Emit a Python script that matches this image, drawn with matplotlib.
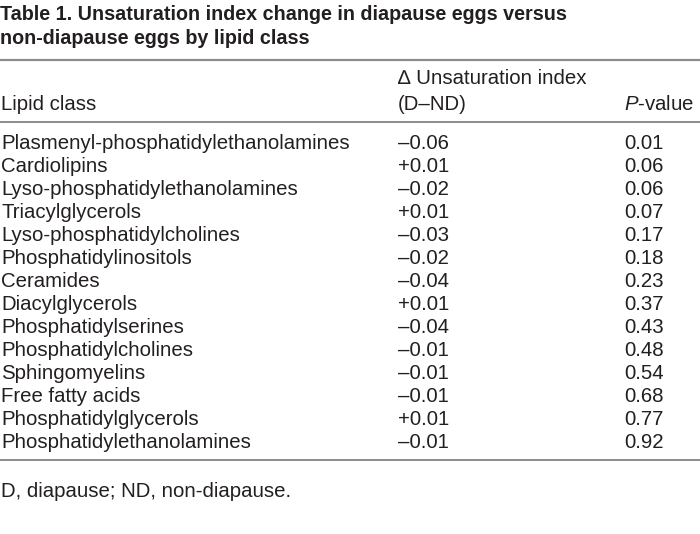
import matplotlib
matplotlib.use('Agg')
import matplotlib.pyplot as plt

plt.rcParams['mathtext.fontset'] = 'custom'
plt.rcParams['mathtext.rm'] = 'Liberation Sans'
plt.rcParams['mathtext.it'] = 'Liberation Sans:italic'

# ── Дані таблиці ────────────────────────────────────────────
lipid_classes = [
    'Plasmenyl-phosphatidylethanolamines', 'Cardiolipins',
    'Lyso-phosphatidylethanolamines', 'Triacylglycerols',
    'Lyso-phosphatidylcholines', 'Phosphatidylinositols', 'Ceramides',
    'Diacylglycerols', 'Phosphatidylserines', 'Phosphatidylcholines',
    'Sphingomyelins', 'Free fatty acids', 'Phosphatidylglycerols',
    'Phosphatidylethanolamines',
]
delta_ui = ['–0.06', '+0.01', '–0.02', '+0.01', '–0.03', '–0.02', '–0.04',
            '+0.01', '–0.04', '–0.01', '–0.01', '–0.01', '+0.01', '–0.01']
p_values = ['0.01', '0.06', '0.06', '0.07', '0.17', '0.18', '0.23',
            '0.37', '0.43', '0.48', '0.54', '0.68', '0.77', '0.92']

title_lines = ['Table 1. Unsaturation index change in diapause eggs versus',
               'non-diapause eggs by lipid class']
footnote = 'D, diapause; ND, non-diapause.'

C_TEXT = '#231f20'
C_RULE = '#8c8c8c'
FONT = 'Liberation Sans'
FS = 14.7

fig = plt.figure(figsize=(7, 5.34), dpi=100)
ax = fig.add_axes([0, 0, 1, 1])
ax.set_xlim(0, 700)
ax.set_ylim(534, 0)
ax.axis('off')


def put(x, y, s, **kw):
    ax.text(x, y, s, ha='left', va='baseline', fontsize=kw.pop('fs', FS),
            family=FONT, color=C_TEXT, **kw)


# заголовок
for i, line in enumerate(title_lines):
    put(0, 19.5 + i * 25, line, fs=14.25, fontweight='bold')

# лінії
for y, lw in ((60, 1.6), (122, 1.4), (460, 1.4)):
    ax.plot([0, 700], [y, y], color=C_RULE, lw=lw, solid_capstyle='butt')

# шапка
X1, X2, X3 = 1, 398, 624
put(X2, 84.5, '∆ Unsaturation index')
put(X1, 109.5, 'Lipid class')
put(X2, 109.5, '(D–ND)')
put(X3, 109.5, '$\\mathit{P}$-value')

# рядки
for i, (name, d, p) in enumerate(zip(lipid_classes, delta_ui, p_values)):
    y = 149 + i * 23
    put(X1, y, name)
    put(X2, y, d)
    put(X3, y, p)

put(X1, 497, footnote)

fig.savefig('out.png', dpi=100, facecolor='white')
